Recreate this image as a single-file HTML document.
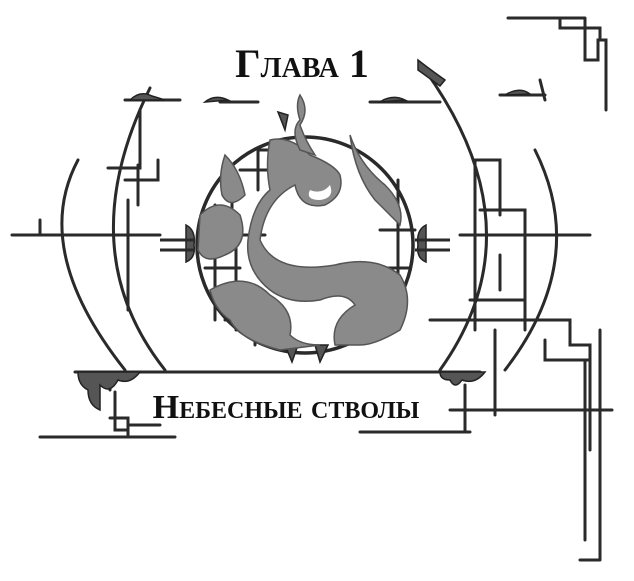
<!DOCTYPE html>
<html><head><meta charset="utf-8"><style>
html,body{margin:0;padding:0;background:#fff}
svg{display:block}
text{font-family:"Liberation Serif",serif;font-weight:bold;fill:#111}
</style></head><body>
<svg width="634" height="581" viewBox="0 0 634 581" xmlns="http://www.w3.org/2000/svg">
<g fill="none" stroke="#2a2a2a" stroke-width="3" stroke-linecap="round">
<!-- top-right corner frame -->
<path d="M508 18 H585 M560 18 V28 H585 M585 18 V28 M585 28 V60 H598 V40 H606 V110"/>
<path d="M570 28 H600 V40"/>
<!-- left arcs -->
<path d="M165 370 Q70 250 150 88"/>
<path d="M125 370 Q30 250 78 160"/>
<!-- right arcs -->
<path d="M440 370 Q540 230 425 70"/>
<path d="M505 370 Q590 260 535 150"/>
<!-- left grids -->
<path d="M125 180 H158 V160 M108 168 H140 V110 M138 165 V205 M128 200 V310 M12 235 H160 M40 235 V220"/>
<path d="M125 100 H180 M220 102 H258"/>
<!-- right grids -->
<path d="M475 160 V330 M475 160 H500 V215 M480 210 H525 V330 M460 235 H590 M500 255 V290 M470 300 H525 M430 320 H570 V345 H590 V450 M570 320 V345 M600 330 V560 M580 560 H600 M585 360 V540 M545 340 V360 H590"/>
<path d="M370 102 H440 M500 95 H545 M540 80 L545 100"/>
<!-- band -->
<path d="M75 372 H480"/>
<path d="M95 372 V400 M110 372 V390"/>
<path d="M40 437 H175 M115 392 V430 H127 M110 418 H128 V437 M130 425 H160"/>
<path d="M360 432 H470 M465 385 V432 M450 410 H612 M495 415 V330"/>
<!-- circle -->
<circle cx="305" cy="245" r="108" stroke-width="3.5"/>
<path d="M215 205 V320 M212 235 H265 M236 225 V330 M225 320 H255 V345 M240 170 H275 M258 150 V190 M258 150 H280 M232 180 V220 M205 268 H240"/>
<path d="M398 180 V300 M380 230 H415 M375 265 V335 M375 268 H410 M350 330 H370 V290"/>
</g>
<!-- dark ornaments -->
<g fill="#555" stroke="#222" stroke-width="1.5">
<path d="M78 372 H140 Q130 385 118 380 Q110 395 100 385 V410 Q88 405 88 390 Q78 385 78 372Z"/>
<path d="M440 372 H485 Q475 385 462 380 Q455 390 450 380 Q440 380 440 372Z"/>
<path d="M130 100 Q140 90 152 96 L165 100Z"/>
<path d="M205 102 Q215 94 228 100Z"/>
<path d="M380 102 Q392 94 405 100Z"/>
<path d="M505 95 Q520 86 530 94Z"/>
<path d="M186 225 Q196 230 194 245 Q196 258 186 262 Z"/>
<path d="M426 225 Q416 230 418 245 Q416 258 426 262 Z"/>
<path d="M278 112 L288 115 L285 130 Z"/>
<path d="M418 60 Q428 68 445 80 L440 86 Q425 75 418 70Z"/>
<path d="M285 345 L298 345 L292 362Z M315 345 L328 345 L320 362Z"/>
</g>
<g stroke="#2a2a2a" stroke-width="3" fill="none">
<path d="M160 240 H195 M160 250 H195 M415 240 H450 M415 250 H450"/>
</g>
<!-- smoke -->
<g fill="#8a8a8a" stroke="#555" stroke-width="1.5">
<path d="M270 140 Q290 135 310 155 Q335 165 340 175 Q345 195 325 205 Q300 210 295 185 Q265 200 260 240 Q275 275 335 265 Q375 255 400 275 Q415 300 400 330 Q375 345 360 345 L335 345 Q330 320 355 305 Q345 290 320 300 Q290 305 270 290 Q245 270 248 240 Q252 205 270 190 Q265 165 270 140Z"/>
<path d="M210 290 Q245 270 270 295 Q295 310 290 335 Q300 345 320 345 L280 350 Q240 340 230 320 Q215 310 210 290Z"/>
<path d="M200 215 Q220 195 240 215 Q250 245 225 255 Q205 265 198 250Z"/>
<path d="M225 155 Q240 170 245 195 Q230 210 222 195 Q218 175 225 155Z"/>
<path d="M350 135 Q360 165 385 185 Q405 205 400 225 Q390 215 375 200 Q355 175 350 135Z"/>
<path d="M300 95 Q310 110 300 125 Q305 140 315 155 L300 150 Q290 130 300 120 Q295 105 300 95Z"/>
</g>
<g fill="#fff">
<path d="M330 185 Q322 195 310 190 Q305 200 320 200 Q335 198 330 185Z"/>
</g>
<text x="302" y="77" text-anchor="middle" font-size="40" style="font-variant:small-caps">Глава 1</text>
<text x="286" y="418" text-anchor="middle" font-size="34" style="font-variant:small-caps">Небесные стволы</text>
</svg>
</body></html>
